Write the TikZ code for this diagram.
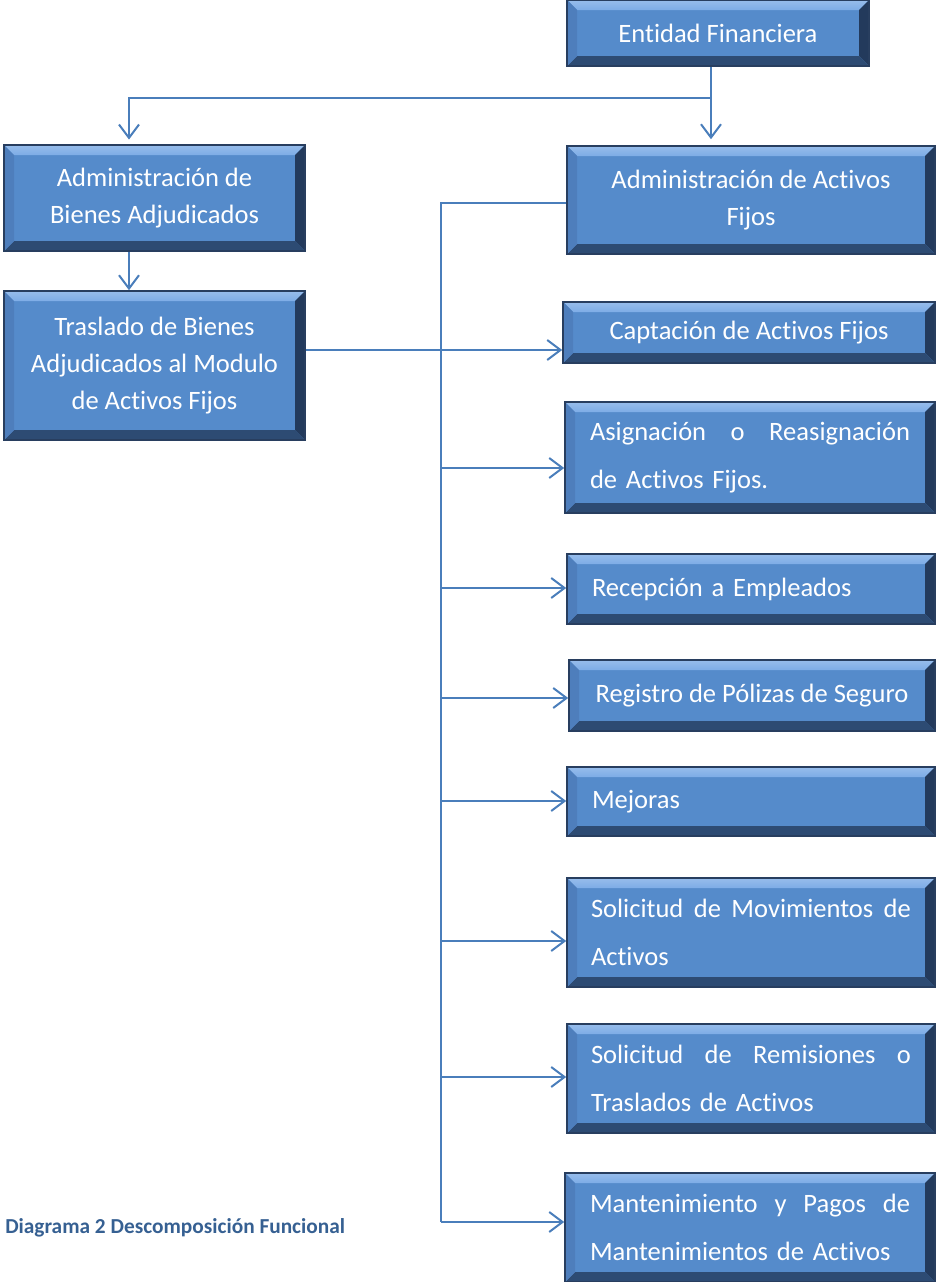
\documentclass[tikz,border=0pt]{standalone}
\usepackage{fontspec}
\setmainfont{Carlito}[Ligatures={NoCommon}]
\usetikzlibrary{arrows.meta,calc}
\definecolor{boxmid}{RGB}{85,139,203}
\definecolor{bevtop}{RGB}{125,172,230}
\definecolor{bevleft}{RGB}{78,126,188}
\definecolor{bevright}{RGB}{35,58,92}
\definecolor{bevbot}{RGB}{45,75,115}
\definecolor{boxedge}{RGB}{40,62,95}
\definecolor{lineblue}{RGB}{74,126,187}
\definecolor{capcol}{RGB}{54,96,146}
\tikzset{
  bev/.style={rectangle, inner sep=0pt, fill=boxmid, draw=boxedge, line width=1.2pt,
    text=white, font=\fontsize{19.9}{27.75}\selectfont,
    path picture={
      \path (path picture bounding box.north west) coordinate (a1)
            (path picture bounding box.north east) coordinate (a2)
            (path picture bounding box.south east) coordinate (a3)
            (path picture bounding box.south west) coordinate (a4);
      \shade[top color=bevtop!80!white, bottom color=bevtop] (a1) -- (a2) -- ([shift={(-7.5pt,-7.5pt)}]a2) -- ([shift={(7.5pt,-7.5pt)}]a1) -- cycle;
      \fill[bevright] (a2) -- (a3) -- ([shift={(-7.5pt,7.5pt)}]a3) -- ([shift={(-7.5pt,-7.5pt)}]a2) -- cycle;
      \fill[bevbot] (a3) -- (a4) -- ([shift={(7.5pt,7.5pt)}]a4) -- ([shift={(-7.5pt,7.5pt)}]a3) -- cycle;
      \fill[bevleft] (a4) -- (a1) -- ([shift={(7.5pt,-7.5pt)}]a1) -- ([shift={(7.5pt,7.5pt)}]a4) -- cycle;
    }},
  ctr/.style={align=center},
  lft/.style={align=left, text width=238.5pt},
  jst/.style={align=left, text width=240pt, font=\fontsize{19.9}{36}\selectfont},
  ln/.style={draw=lineblue, line width=1.5pt},
  arr/.style={ln, -{Straight Barb[length=10pt,width=15pt,line width=1.5pt]}},
}
\newcommand{\bbox}[7][]{%
  \node[bev, minimum width={(#5-#3)*0.75pt}, minimum height={(#6-#4)*0.75pt}, #1]
    (#2) at ({(#3+#5)/2},{(#4+#6)/2}) {#7};}
\newcommand{\jline}[1]{\makebox[240pt][l]{#1}}
\begin{document}
\begin{tikzpicture}[x=0.75pt, y=-0.75pt]
\useasboundingbox (0,0) rectangle (936,1282);

\bbox[ctr]{ef}{567}{0}{869}{66}{Entidad Financiera}
\bbox[ctr]{ab}{4}{145}{305}{251}{Administración de\\Bienes Adjudicados}
\bbox[ctr]{aaf}{567}{146}{935}{254}{Administración de Activos\\Fijos}
\bbox[ctr]{tr}{4}{291}{305}{440}{Traslado de Bienes\\Adjudicados al Modulo\\de Activos Fijos}
\bbox[ctr]{capt}{563}{302}{935}{363}{Captación de Activos Fijos}
\bbox[jst]{asig}{565}{402}{935}{513}{\jline{Asignación\hfill o\hfill Reasignación}\\de Activos Fijos.}
\bbox[lft]{rec}{567}{554}{935}{624}{Recepción a Empleados}
\bbox[ctr]{reg}{569}{660}{935}{731}{Registro de Pólizas de Seguro}
\bbox[lft]{mej}{567}{767}{935}{836}{Mejoras}
\bbox[jst]{smov}{567}{878}{935}{987}{\jline{Solicitud\hfill de\hfill Movimientos\hfill de}\\Activos}
\bbox[jst]{srem}{567}{1024}{935}{1133}{\jline{Solicitud\hfill de\hfill Remisiones\hfill o}\\Traslados de Activos}
\bbox[jst]{mant}{565}{1173}{935}{1282}{\jline{Mantenimiento\hfill y\hfill Pagos\hfill de}\\Mantenimientos de Activos}

\node[anchor=west, inner sep=0pt, text=capcol, font=\bfseries\fontsize{16}{19}\selectfont] (caption) at (5,1228) {Diagrama 2 Descomposición Funcional};

% connectors
\coordinate (j1) at (711,98);
\coordinate (j2) at (129,98);
\draw[ln] (ef.south -| j1) -- (j1);
\draw[arr] (j1) -- ([yshift=4.5pt]aaf.north -| j1);
\draw[arr] (j1) -- (j2) -- ([yshift=3.5pt]ab.north -| j2);
\draw[arr] (ab.south -| j2) -- (tr.north -| j2);
\coordinate (h0) at (0,350);
\draw[arr] (tr.east |- h0) -- (capt.west |- h0);
\coordinate (t0) at (441,203);
\coordinate (tb) at (441,1222);
\draw[ln] (aaf.west |- t0) -- (t0) -- (tb);
\foreach \n/\yy in {asig/468, rec/588, reg/698, mej/801, smov/941, srem/1077, mant/1222}{
  \coordinate (b) at (441,\yy);
  \draw[arr] (b) -- (b -| \n.west);
}
\end{tikzpicture}
\end{document}
